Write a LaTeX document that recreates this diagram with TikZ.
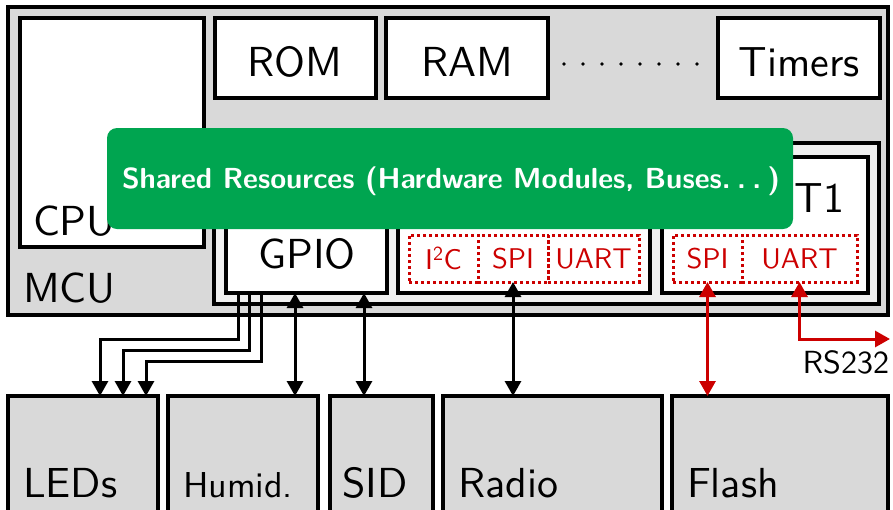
\documentclass[tikz,border=0pt]{standalone}
\usepackage{fontspec}
\setsansfont{lmsans10-regular}[Extension=.otf,BoldFont=lmsans10-bold]
\usetikzlibrary{arrows.meta,calc}
\definecolor{mcugray}{RGB}{217,217,217}
\definecolor{portfill}{RGB}{240,240,240}
\definecolor{resgreen}{RGB}{0,165,80}
\definecolor{busred}{RGB}{204,0,0}
\begin{document}
\begin{tikzpicture}[x=1pt,y=-1pt,
  every node/.style={inner sep=0pt,outer sep=0pt},
  blk/.style={draw=black,line width=3.5pt,anchor=north west},
  wbox/.style={blk,fill=white},
  gbox/.style={blk,fill=mcugray},
  dbox/.style={draw=busred,line width=3pt,dash pattern=on 3pt off 3pt,
    anchor=north west,text=busred,font=\sffamily\fontsize{28.5}{32}\selectfont},
  big/.style={font=\sffamily\fontsize{42}{48}\selectfont},
  mid/.style={font=\sffamily\fontsize{36}{42}\selectfont},
  arr/.style={line width=3pt,-{Triangle[width=16pt 0 0,length=15pt 0 0]}},
  darr/.style={line width=3pt,{Triangle[width=16pt 0 0,length=15pt 0 0]}-{Triangle[width=16pt 0 0,length=15pt 0 0]}},
]
\path[use as bounding box] (0,0) rectangle (893,509);
\clip (0,0) rectangle (893,509);

% microcontroller outline
\node[gbox,minimum width=880pt,minimum height=308pt] (mcu) at (8,7) {};
\node[big,anchor=base west] (mculbl) at (23,302) {MCU};

% core and memories
\node[wbox,minimum width=184pt,minimum height=229pt] (cpu) at (20,18) {};
\node[big,anchor=base west] (cpulbl) at (33,235) {CPU};
\node[wbox,minimum width=161pt,minimum height=80pt] (rom) at (215,18) {};
\node[big,anchor=base] (romlbl) at (295,76) {ROM};
\node[wbox,minimum width=162pt,minimum height=80pt] (ram) at (386,18) {};
\node[big,anchor=base] (ramlbl) at (467,76) {RAM};
\node[wbox,minimum width=162pt,minimum height=80pt] (timers) at (718,18) {};
\node[big,anchor=base] (timerslbl) at (799,76) {Timers};
\foreach \i in {0,...,7} \fill (564+19*\i,64) circle (1.9pt);

% peripheral block
\node[blk,fill=portfill,minimum width=665pt,minimum height=161pt] (periph) at (214,143) {};
\node[wbox,minimum width=161pt,minimum height=136pt] (gpio) at (226,157) {};
\node[big,anchor=base] (gpiolbl) at (307,268) {GPIO};
\node[wbox,minimum width=252pt,minimum height=136pt] (usci) at (398,157) {};
\node[wbox,minimum width=206pt,minimum height=136pt] (uartmod) at (662,157) {};
\node[big,anchor=base east] (t1lbl) at (844,212) {T1};

% serial interfaces
\node[dbox,minimum width=69pt,minimum height=47pt] (i2c) at (409,235) {I\textsuperscript{2}C};
\node[dbox,minimum width=70pt,minimum height=47pt] (spi1) at (478,235) {SPI};
\node[dbox,minimum width=91pt,minimum height=47pt] (uart1) at (548,235) {UART};
\node[dbox,minimum width=69pt,minimum height=47pt] (spi2) at (673,235) {SPI};
\node[dbox,minimum width=115pt,minimum height=47pt] (uart2) at (742,235) {UART};

% external devices
\node[gbox,minimum width=150pt,minimum height=140pt] (leds) at (8,396) {};
\node[big,anchor=base west] (ledslbl) at (23,497) {LEDs};
\node[gbox,minimum width=150pt,minimum height=140pt] (humid) at (168,396) {};
\node[mid,anchor=base west] (humidlbl) at (183,497) {Humid.};
\node[gbox,minimum width=103pt,minimum height=140pt] (sid) at (330,396) {};
\node[big,anchor=base west] (sidlbl) at (342,497) {SID};
\node[gbox,minimum width=219pt,minimum height=140pt] (radio) at (443,396) {};
\node[big,anchor=base west] (radiolbl) at (458,497) {Radio};
\node[gbox,minimum width=216pt,minimum height=140pt] (flash) at (672,396) {};
\node[big,anchor=base west] (flashlbl) at (687,497) {Flash};

% GPIO lines
\coordinate (g1) at ([xshift=12pt]gpio.south west);
\coordinate (g2) at ([xshift=23pt]gpio.south west);
\coordinate (g3) at ([xshift=35pt]gpio.south west);
\coordinate (g4) at ([xshift=69pt]gpio.south west);
\coordinate (g5) at ([xshift=138pt]gpio.south west);
\coordinate (r1) at (100,339);
\coordinate (r2) at (123,350);
\coordinate (r3) at (146,361);
\draw[arr] (g1) |- (r1) -- (r1 |- leds.north);
\draw[arr] (g2) |- (r2) -- (r2 |- leds.north);
\draw[arr] (g3) |- (r3) -- (r3 |- leds.north);
\draw[darr] (g4) -- (g4 |- humid.north);
\draw[darr] (g5) -- (g5 |- sid.north);
\draw[darr] (spi1.south) -- (spi1.south |- radio.north);

% buses of the second module
\coordinate (rsend) at (890,339);
\draw[darr,color=busred] (spi2.south) -- (spi2.south |- flash.north);
\draw[darr,color=busred] (uart2.south) |- (rsend);
\node[anchor=base east,font=\sffamily\fontsize{32}{36}\selectfont] (rslbl) at (889,373) {RS232};

% overlay banner
\node[anchor=north west,fill=resgreen,rounded corners=10pt,minimum width=686pt,minimum height=101pt] (shared) at (107,128) {};
\node[anchor=base west,text=white,font=\sffamily\bfseries\fontsize{29}{33}\selectfont] (sharedlbl) at (122,188) {Shared Resources (Hardware Modules, Buses.\kern0.22em.\kern0.22em.\kern0.22em)};
\end{tikzpicture}
\end{document}
